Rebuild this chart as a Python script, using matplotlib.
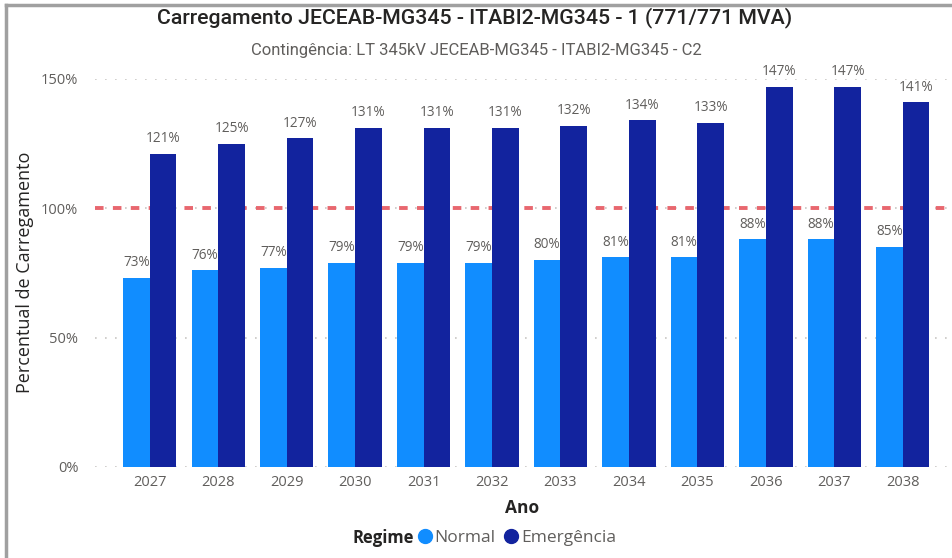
import matplotlib
matplotlib.use("Agg")
import matplotlib.pyplot as plt
from matplotlib.lines import Line2D
import numpy as np

# Data
anos = ['2027', '2028', '2029', '2030', '2031', '2032',
        '2033', '2034', '2035', '2036', '2037', '2038']
normal = [73, 76, 77, 79, 79, 79, 80, 81, 81, 88, 88, 85]
emergencia = [121, 125, 127, 131, 131, 131, 132, 134, 133, 147, 147, 141]
limite = 100

COR_NORMAL = '#118DFF'
COR_EMERG = '#12239E'
COR_TEXTO = '#605E5C'
COR_TITULO = '#252423'
body_font = ['Open Sans', 'DejaVu Sans']
title_font = ['Roboto', 'DejaVu Sans']

W, H = 952, 558
fig = plt.figure(figsize=(W / 100, H / 100), dpi=100)
ax = fig.add_axes([95 / W, 1 - 467 / H, (950 - 95) / W, (467 - 79) / H])

x = np.arange(len(anos))
w = 0.39
ax.bar(x - w / 2, normal, width=w, color=COR_NORMAL, zorder=3)
ax.bar(x + w / 2, emergencia, width=w, color=COR_EMERG, zorder=3)

for xi, v in zip(x, normal):
    ax.text(xi - w / 2, v + 3, f'{v}%', ha='center', va='bottom', fontsize=9.8,
            color=COR_TEXTO, family=body_font, zorder=4)
for xi, v in zip(x, emergencia):
    ax.text(xi + w / 2, v + 3, f'{v}%', ha='center', va='bottom', fontsize=9.8,
            color=COR_TEXTO, family=body_font, zorder=4, clip_on=False)

# limit line
ax.axhline(limite, color='#E8676F', lw=2.8, ls=(0, (2.2, 2.4)), zorder=2)

ax.set_xlim(-0.8, 11.69)
ax.set_ylim(0, 150)
ax.set_yticks([0, 50, 100, 150])
ax.set_yticklabels(['0%', '50%', '100%', '150%'])
ax.set_xticks(x)
ax.set_xticklabels(anos)
ax.grid(axis='y', color='#C8C6C4', ls=(0, (1, 5)), lw=1.2, zorder=0)
for s in ax.spines.values():
    s.set_visible(False)
ax.tick_params(length=0, labelsize=10.5, colors=COR_TEXTO, pad=6)
ax.tick_params(axis='y', pad=12)
for lab in ax.get_xticklabels() + ax.get_yticklabels():
    lab.set_family(body_font)

ax.set_xlabel('Ano', fontsize=12.5, color=COR_TITULO, family=body_font,
              fontweight='bold', labelpad=6)
fig.text(25 / W, 1 - 272 / H, 'Percentual de Carregamento', rotation=90,
         ha='center', va='center', fontsize=13, color=COR_TITULO, family=body_font)

fig.text(475 / W, 1 - 18 / H, 'Carregamento JECEAB-MG345 - ITABI2-MG345 - 1 (771/771 MVA)',
         ha='center', va='center', fontsize=15.3, color=COR_TITULO, family=title_font,
         fontweight='medium')
fig.text(476 / W, 1 - 50 / H, 'Contingência: LT 345kV JECEAB-MG345 - ITABI2-MG345 - C2',
         ha='center', va='center', fontsize=12, color=COR_TEXTO, family=title_font)

# legend
fig.text(353 / W, 1 - 538 / H, 'Regime', ha='left', va='center', fontsize=12,
         fontweight='bold', color=COR_TITULO, family=body_font)
handles = [Line2D([], [], marker='o', ls='', ms=10, color=COR_NORMAL),
           Line2D([], [], marker='o', ls='', ms=10, color=COR_EMERG)]
leg = fig.legend(handles, ['Normal', 'Emergência'], ncol=2, loc='center left',
                 bbox_to_anchor=(418 / W, 1 - 538 / H), frameon=False,
                 handlelength=0.8, handletextpad=0.15, columnspacing=0.5,
                 borderaxespad=0, borderpad=0,
                 prop={'family': body_font, 'size': 12.5})
for t in leg.get_texts():
    t.set_color(COR_TEXTO)

# frame lines of the visual
fig.add_artist(Line2D([6 / W, 6 / W], [0, 1 - 5 / H], color='#A0A0A0', lw=2.5))
fig.add_artist(Line2D([6 / W, 1], [1 - 5 / H, 1 - 5 / H], color='#A0A0A0', lw=2.5))

fig.savefig('out.png', dpi=100)
